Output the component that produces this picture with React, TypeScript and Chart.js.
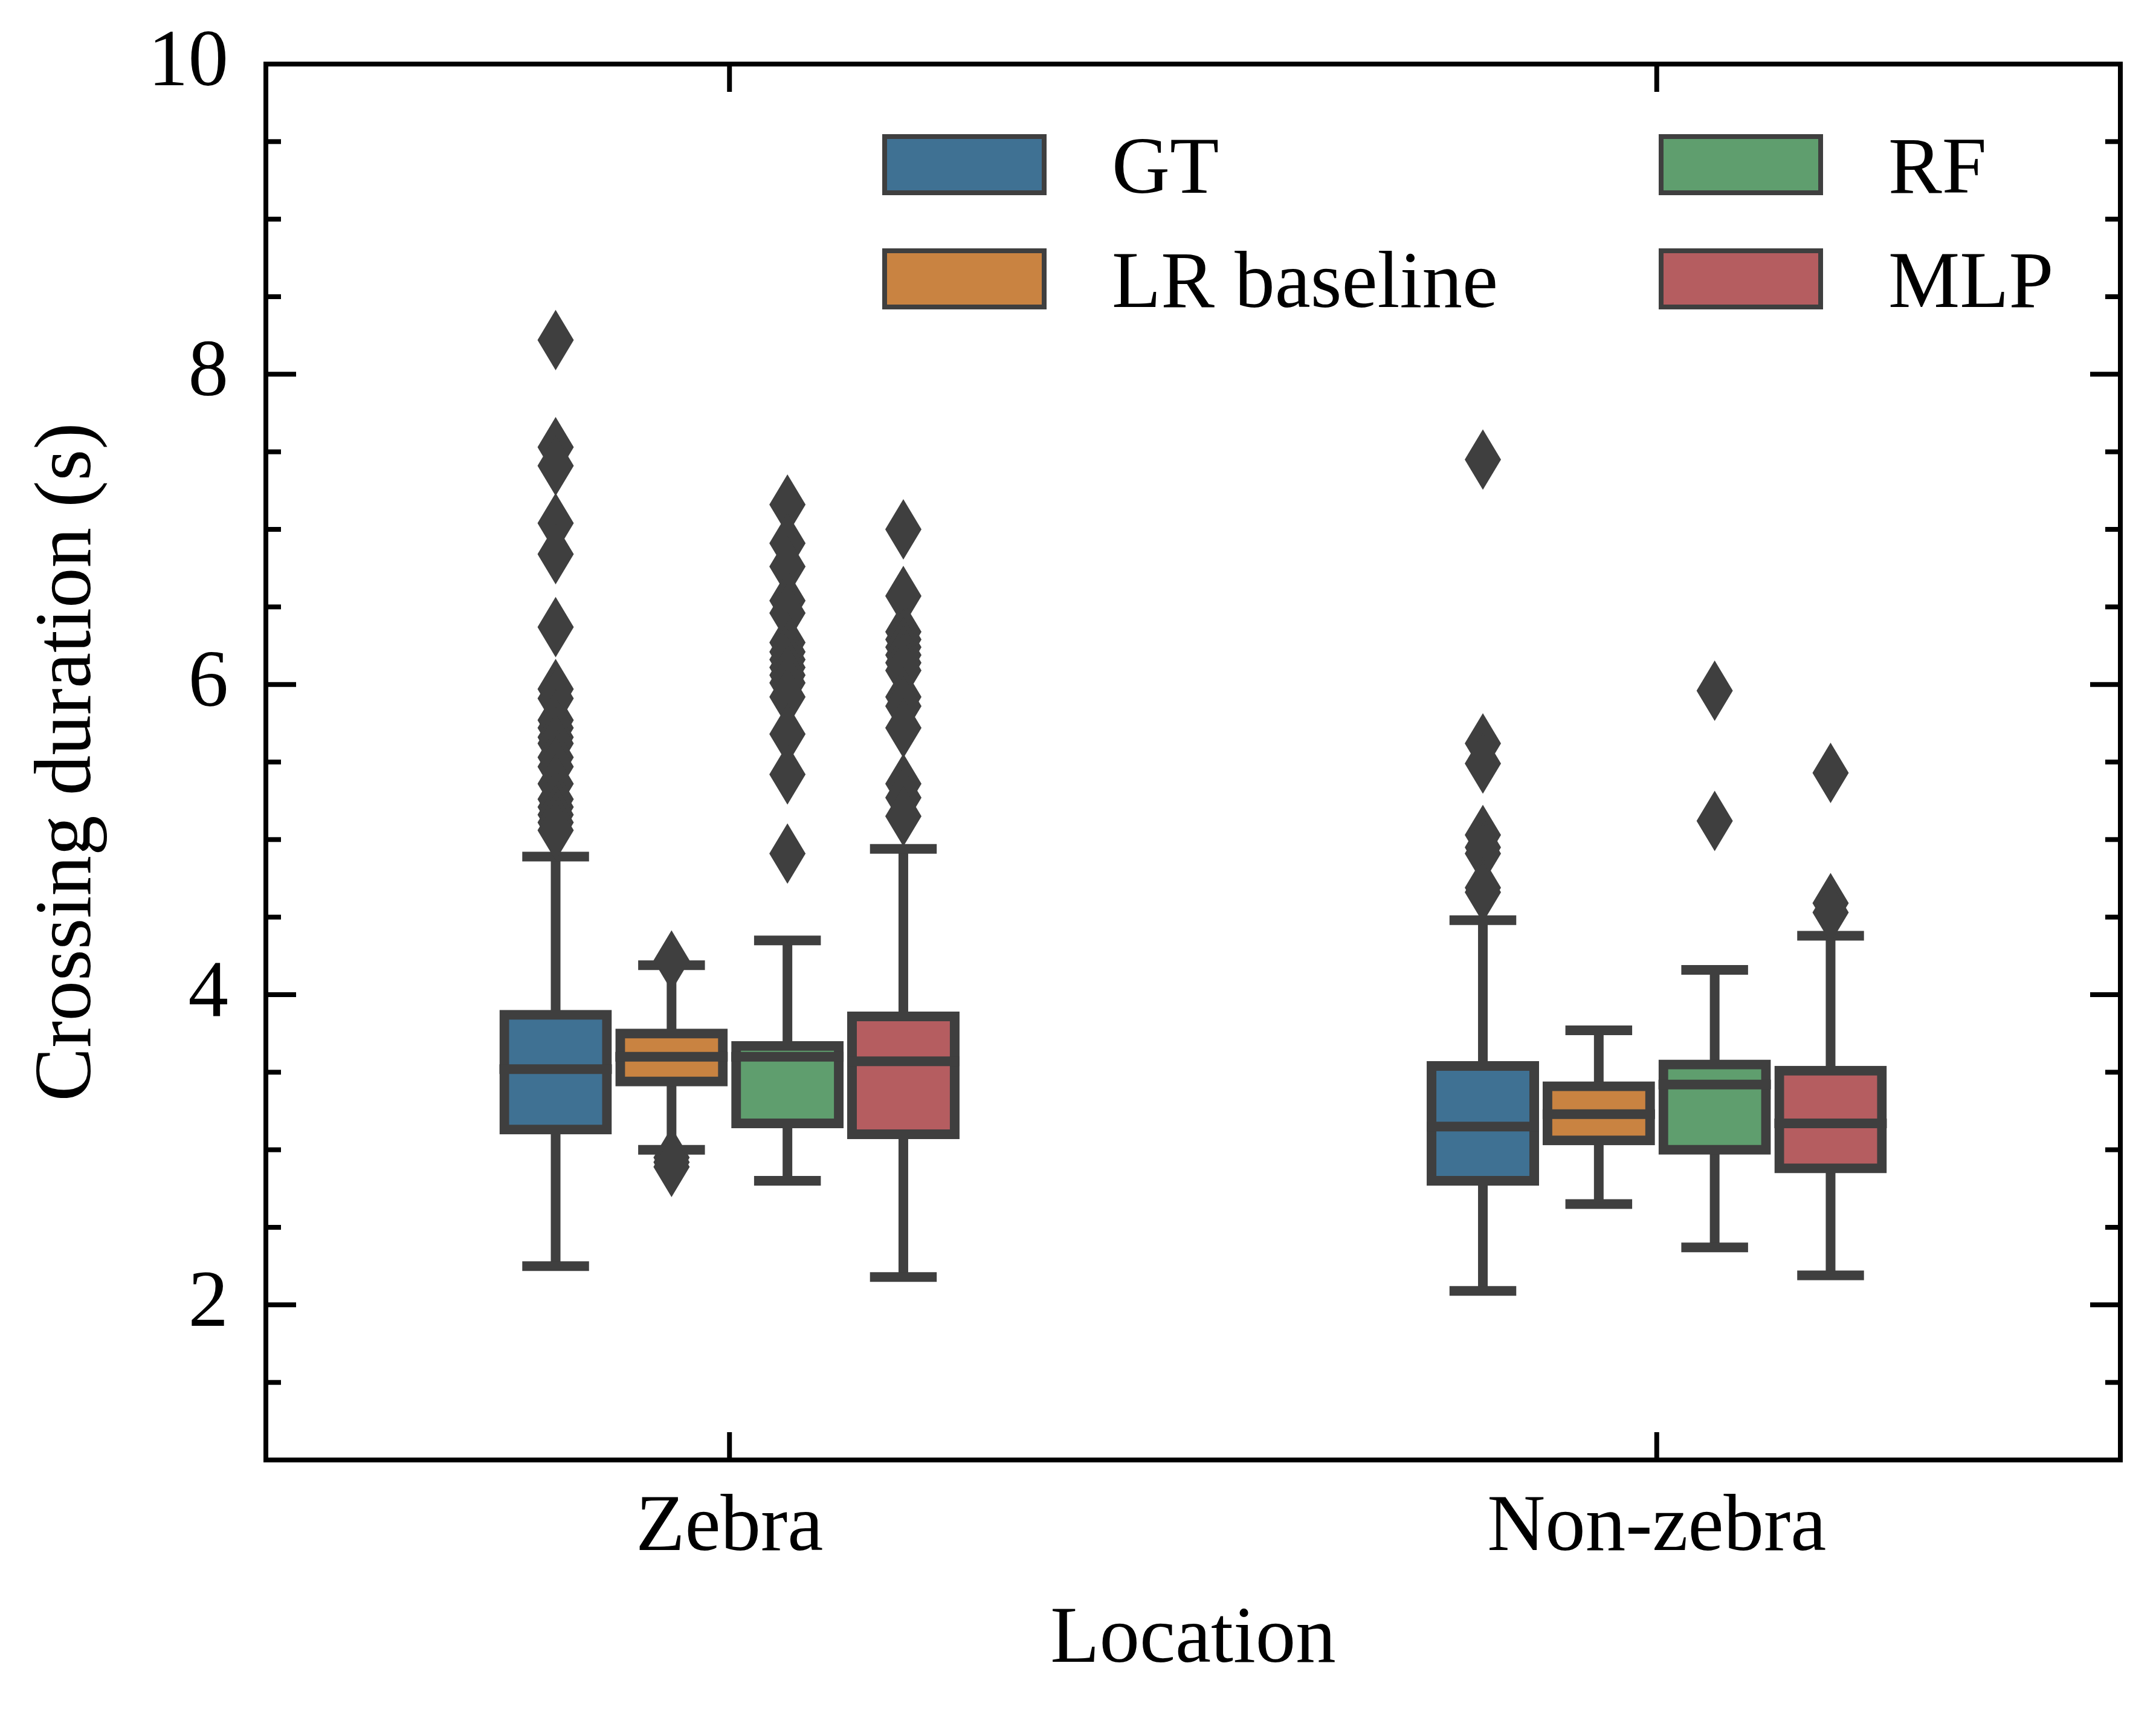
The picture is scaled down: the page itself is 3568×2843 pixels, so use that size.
import React, { useEffect, useRef } from 'react';
import { Chart, registerables } from 'chart.js';

Chart.register(...registerables);

// Categories and hues
const locations = ['Zebra', 'Non-zebra'];
const models = ['GT', 'LR baseline', 'RF', 'MLP'];
const modelColors = ['#3f7193', '#c98341', '#5f9e6e', '#b55d60'];
const yTickValues = [2, 4, 6, 8, 10];

// Box statistics, one row per model: [Zebra, Non-zebra]
const lowerWhisker = [[2.25, 2.09], [3.0, 2.65], [2.8, 2.37], [2.18, 2.19]];
const firstQuartile = [[3.13, 2.8], [3.44, 3.06], [3.17, 3.0], [3.1, 2.88]];
const medianValue = [[3.52, 3.15], [3.6, 3.23], [3.6, 3.42], [3.57, 3.17]];
const thirdQuartile = [[3.87, 3.54], [3.75, 3.41], [3.67, 3.55], [3.86, 3.51]];
const upperWhisker = [[4.89, 4.48], [4.19, 3.77], [4.35, 4.16], [4.94, 4.38]];

// Outliers per model: [Zebra, Non-zebra]
const gtOutliers = [
  [8.22, 7.53, 7.41, 7.04, 6.84, 6.37, 5.97, 5.91, 5.77, 5.72, 5.66, 5.62, 5.53, 5.47, 5.36, 5.26, 5.21, 5.16, 5.11, 5.06],
  [7.45, 5.62, 5.49, 5.03, 4.95, 4.91, 4.69, 4.66],
];
const lrOutliers = [
  [4.22, 2.95, 2.92, 2.89],
  [],
];
const rfOutliers = [
  [7.16, 6.91, 6.76, 6.54, 6.46, 6.27, 6.21, 6.16, 6.11, 6.06, 6.01, 5.92, 5.68, 5.42, 4.91],
  [5.96, 5.12],
];
const mlpOutliers = [
  [7.0, 6.57, 6.34, 6.29, 6.24, 6.19, 6.14, 6.09, 5.92, 5.86, 5.72, 5.36, 5.27, 5.15],
  [5.43, 4.59, 4.53],
];
const outliers = [gtOutliers, lrOutliers, rfOutliers, mlpOutliers];

const WIDTH = 3568;
const HEIGHT = 2843;
const FONT = 'Liberation Serif';
const FONT_SIZE = 133;
const EDGE = '#3f3f3f';
const LINE = 16;

const line = (ctx: CanvasRenderingContext2D, x1: number, y1: number, x2: number, y2: number) => {
  ctx.beginPath();
  ctx.moveTo(x1, y1);
  ctx.lineTo(x2, y2);
  ctx.stroke();
};

const boxParts = {
  id: 'boxParts',
  beforeDatasetsDraw(chart: any) {
    const { ctx } = chart;
    const y = chart.scales.y;
    ctx.save();
    ctx.strokeStyle = EDGE;
    ctx.lineWidth = LINE;
    ctx.lineCap = 'butt';
    models.forEach((_, d) => {
      chart.getDatasetMeta(d).data.forEach((bar: any, i: number) => {
        const { x, width } = bar.getProps(['x', 'width'], true);
        const capHalf = width * 0.325;
        const yLo = y.getPixelForValue(lowerWhisker[d][i]);
        const yHi = y.getPixelForValue(upperWhisker[d][i]);
        line(ctx, x, y.getPixelForValue(firstQuartile[d][i]), x, yLo);
        line(ctx, x, y.getPixelForValue(thirdQuartile[d][i]), x, yHi);
        line(ctx, x - capHalf, yLo, x + capHalf, yLo);
        line(ctx, x - capHalf, yHi, x + capHalf, yHi);
      });
    });
    ctx.restore();
  },
  afterDatasetsDraw(chart: any) {
    const { ctx } = chart;
    const y = chart.scales.y;
    ctx.save();
    ctx.strokeStyle = EDGE;
    ctx.fillStyle = EDGE;
    ctx.lineWidth = LINE;
    models.forEach((_, d) => {
      chart.getDatasetMeta(d).data.forEach((bar: any, i: number) => {
        const { x, width } = bar.getProps(['x', 'width'], true);
        const ym = y.getPixelForValue(medianValue[d][i]);
        line(ctx, x - width / 2 - LINE / 2, ym, x + width / 2 + LINE / 2, ym);
        outliers[d][i].forEach((v) => {
          const py = y.getPixelForValue(v);
          ctx.beginPath();
          ctx.moveTo(x, py - 50);
          ctx.lineTo(x + 30, py);
          ctx.lineTo(x, py + 50);
          ctx.lineTo(x - 30, py);
          ctx.closePath();
          ctx.fill();
        });
      });
    });
    ctx.restore();
  },
  afterDraw(chart: any) {
    const { ctx, chartArea } = chart;
    const { left, right, top, bottom } = chartArea;
    const xs = chart.scales.x;
    const ys = chart.scales.y;
    ctx.save();
    ctx.strokeStyle = '#000';
    ctx.lineWidth = 8;
    ctx.lineCap = 'butt';

    // inward ticks on all four sides
    for (let v = ys.min; v <= ys.max + 1e-9; v += 0.5) {
      const py = ys.getPixelForValue(v);
      const len = yTickValues.includes(v) ? 50 : 25;
      line(ctx, left, py, left + len, py);
      line(ctx, right, py, right - len, py);
    }
    locations.forEach((_, i) => {
      const px = xs.getPixelForValue(i);
      line(ctx, px, bottom, px, bottom - 46);
      line(ctx, px, top, px, top + 46);
    });
    ctx.strokeRect(left, top, right - left, bottom - top);

    // legend, two columns filled top to bottom
    ctx.font = `${FONT_SIZE}px "${FONT}"`;
    ctx.textBaseline = 'alphabetic';
    ctx.textAlign = 'left';
    models.forEach((name, i) => {
      const col = Math.floor(i / 2);
      const row = i % 2;
      const px = left + 1020 + col * 1285;
      const py = top + 116 + row * 189;
      ctx.fillStyle = modelColors[i];
      ctx.fillRect(px, py, 272, 101);
      ctx.strokeStyle = EDGE;
      ctx.lineWidth = 8;
      ctx.strokeRect(px + 4, py + 4, 264, 93);
      ctx.fillStyle = '#000';
      ctx.fillText(name, px + 380, py + 97);
    });
    ctx.restore();
  },
};

const App: React.FC = () => {
  const canvasRef = useRef<HTMLCanvasElement>(null);

  useEffect(() => {
    document.body.style.margin = '0';
    const ctx = canvasRef.current?.getContext('2d');
    if (!ctx) return;

    const chart = new Chart(ctx, {
      type: 'bar',
      data: {
        labels: locations,
        datasets: models.map((name, d) => ({
          label: name,
          data: locations.map((_, i) => [firstQuartile[d][i], thirdQuartile[d][i]]),
          backgroundColor: modelColors[d],
          borderColor: EDGE,
          borderWidth: LINE,
          borderSkipped: false,
          inflateAmount: LINE / 2,
          categoryPercentage: 0.5,
          barPercentage: 0.886,
        })),
      },
      options: {
        responsive: false,
        devicePixelRatio: 1,
        animation: false,
        layout: { padding: { top: 106, right: 59, bottom: 0, left: 0 } },
        plugins: {
          legend: { display: false },
          tooltip: { enabled: false },
        },
        scales: {
          x: {
            type: 'category',
            offset: true,
            grid: { display: false, drawTicks: false },
            border: { display: false },
            ticks: {
              color: '#000',
              font: { family: FONT, size: FONT_SIZE },
              padding: 34,
              maxRotation: 0,
              autoSkip: false,
            },
            title: {
              display: true,
              text: 'Location',
              color: '#000',
              font: { family: FONT, size: FONT_SIZE },
              padding: { top: 0, bottom: 48 },
            },
            afterFit: (scale: any) => {
              scale.height = 427;
              scale.paddingLeft = 0;
              scale.paddingRight = 0;
            },
          },
          y: {
            min: 1,
            max: 10,
            grid: { display: false, drawTicks: false },
            border: { display: false },
            afterBuildTicks: (scale: any) => {
              scale.ticks = yTickValues.map((value) => ({ value }));
            },
            ticks: {
              color: '#000',
              font: { family: FONT, size: FONT_SIZE },
              padding: 62,
            },
            title: {
              display: true,
              text: 'Crossing duration (s)',
              color: '#000',
              font: { family: FONT, size: FONT_SIZE },
              padding: { top: 34, bottom: 0 },
            },
            afterFit: (scale: any) => {
              scale.width = 440;
              scale.paddingTop = 0;
              scale.paddingBottom = 0;
            },
          },
        },
      },
      plugins: [boxParts],
    });

    return () => {
      chart.destroy();
    };
  }, []);

  return (
    <div style={{ width: WIDTH, height: HEIGHT }}>
      <canvas ref={canvasRef} width={WIDTH} height={HEIGHT} style={{ display: 'block' }} />
    </div>
  );
};

export default App;
